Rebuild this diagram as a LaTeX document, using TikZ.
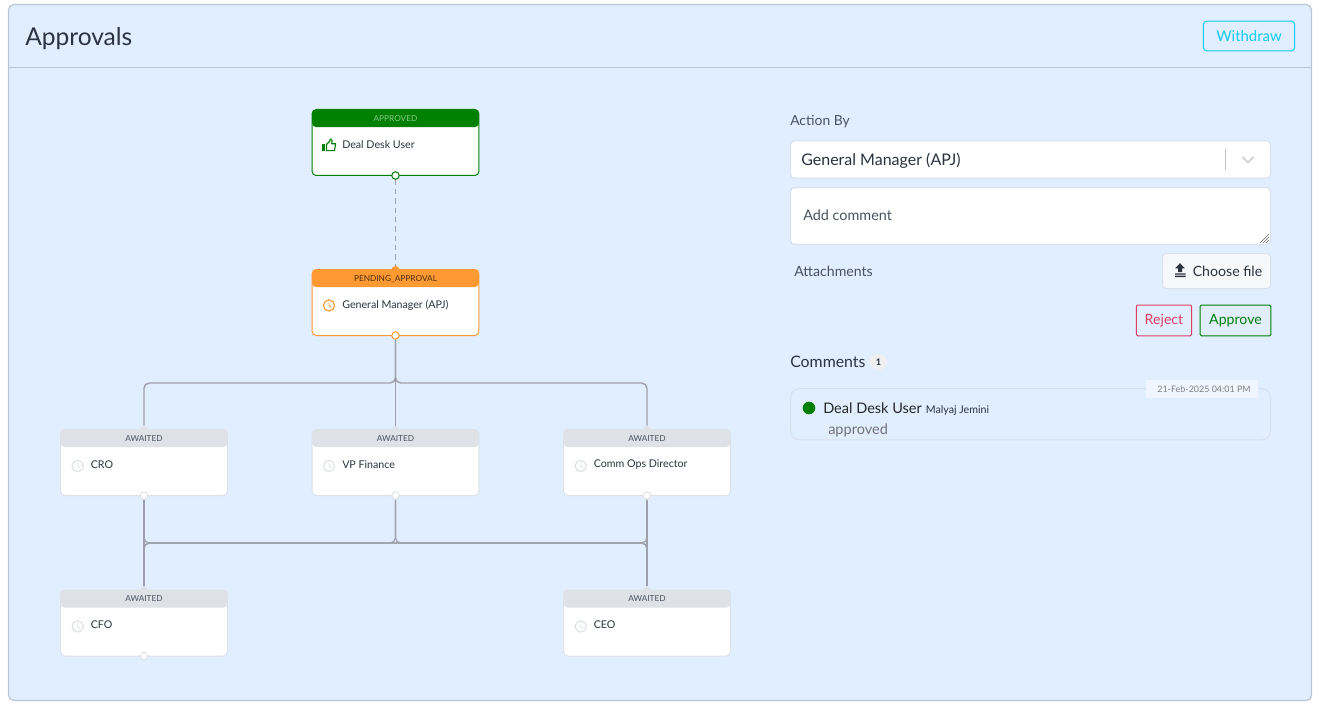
\documentclass[tikz,border=0pt]{standalone}
\usepackage{fontspec}
\setmainfont{Lato}
\usetikzlibrary{backgrounds}

\definecolor{panelblue}{HTML}{E1EEFF}
\definecolor{panelline}{HTML}{B9C5D6}
\definecolor{okgreen}{HTML}{008000}
\definecolor{pendorange}{HTML}{FF9A33}
\definecolor{waitgray}{HTML}{DEE2E7}
\definecolor{linkgray}{HTML}{9EA2A8}
\definecolor{inkdark}{HTML}{2B3340}
\definecolor{inkmid}{HTML}{4A5260}
\definecolor{boxline}{HTML}{D8E0EA}
\definecolor{skyline}{HTML}{12CBF2}
\definecolor{rejectred}{HTML}{E0405C}

\tikzset{
    cardbox/.style={draw=#1, fill=white, rounded corners=3pt, line width=.75pt, inner sep=0pt, outer sep=0pt,
        minimum width=125pt, minimum height=49.5pt,
        path picture={\fill[#1] (path picture bounding box.north west) rectangle ([yshift=-13.2pt]path picture bounding box.north east);}},
    cardhead/.style={inner sep=0pt, font=\fontsize{6.2pt}{8pt}\selectfont},
    cardtext/.style={anchor=west, inner sep=0pt, text=inkdark, font=\fontsize{8pt}{10pt}\selectfont},
    port/.style={circle, draw=#1, fill=white, line width=.75pt, inner sep=0pt, minimum size=5.6pt},
    dome/.style={circle, fill=#1, inner sep=0pt, minimum size=6pt},
    link/.style={draw=linkgray, line width=1.1pt, rounded corners=4pt},
    formbox/.style={draw=boxline, fill=white, rounded corners=3pt, line width=.75pt, inner sep=0pt, outer sep=0pt},
    btn/.style={draw=#1, text=#1, rounded corners=1pt, line width=.75pt, inner sep=0pt, outer sep=0pt, font=\fontsize{10.6pt}{13pt}\selectfont},
    lbl/.style={anchor=west, inner sep=0pt, text=inkmid, font=\fontsize{10.6pt}{13pt}\selectfont}
}

\newcommand{\clockicon}[3]{
    \draw[#3, line width=.85pt] (#1,#2) circle[radius=5.6];
    \draw[#3, line width=.6pt] (#1,#2-3.2) -- (#1,#2) -- (#1+2.4,#2+1.8);
}

\begin{document}
\begin{tikzpicture}[x=0.75pt, y=-0.75pt]
    \useasboundingbox (0,0) rectangle (1321,706);

    \begin{scope}[on background layer]
        \fill[white] (0,0) rectangle (1321,706);
        \draw[panelline, fill=panelblue, line width=.9pt, rounded corners=4pt] (8.5,4.5) rectangle (1311.5,700.5);
        \draw[panelline, line width=.9pt] (9,67.5) -- (1311,67.5);
    \end{scope}

    \node[inner sep=0pt, anchor=west, text=inkdark, font=\fontsize{18.4pt}{22pt}\selectfont] (title) at (25,38.5) {Approvals};
    \node[btn=skyline, rounded corners=2.5pt, font=\fontsize{11.2pt}{13pt}\selectfont, minimum width=68.5pt, minimum height=22.2pt] (withdraw) at (1249,36) {Withdraw};

    \node[dome=pendorange] (domegm) at (395.5,270) {};
    \node[dome=waitgray] (domecro) at (144,430) {};
    \node[dome=waitgray] (domevp) at (395.5,430) {};
    \node[dome=waitgray] (domecomm) at (647,430) {};
    \node[dome=waitgray] (domecfo) at (144,590.5) {};
    \node[dome=waitgray] (domeceo) at (647,590.5) {};

    \node[cardbox=okgreen] (dealdesk) at (395.5,142.5) {};
    \node[cardhead, text=okgreen!45!white] (dealdeskhead) at (395.5,118.7) {APPROVED};
    \node[cardtext] (dealdesktext) at (342,145) {Deal Desk User};
    \node[port=okgreen] (portdeal) at (395.5,175.5) {};

    \node[cardbox=pendorange] (manager) at (395.5,302.5) {};
    \node[cardhead, text=black!70!pendorange] (managerhead) at (395.5,278.7) {PENDING\_APPROVAL};
    \node[cardtext] (managertext) at (342,305) {General Manager (APJ)};
    \node[port=pendorange] (portgm) at (395.5,335.5) {};

    \node[cardbox=waitgray] (cro) at (144,462.5) {};
    \node[cardhead, text=inkmid] (crohead) at (144,438.7) {AWAITED};
    \node[cardtext] (crotext) at (90.5,465) {CRO};
    \node[port=waitgray] (portcro) at (144,495.5) {};

    \node[cardbox=waitgray] (vp) at (395.5,462.5) {};
    \node[cardhead, text=inkmid] (vphead) at (395.5,438.7) {AWAITED};
    \node[cardtext] (vptext) at (342,465) {VP Finance};
    \node[port=waitgray] (portvp) at (395.5,495.5) {};

    \node[cardbox=waitgray] (comm) at (647,462.5) {};
    \node[cardhead, text=inkmid] (commhead) at (647,438.7) {AWAITED};
    \node[cardtext] (commtext) at (593.5,465) {Comm Ops Director};
    \node[port=waitgray] (portcomm) at (647,495.5) {};

    \node[cardbox=waitgray] (cfo) at (144,623) {};
    \node[cardhead, text=inkmid] (cfohead) at (144,598.7) {AWAITED};
    \node[cardtext] (cfotext) at (90.5,625) {CFO};
    \node[port=waitgray] (portcfo) at (144,656) {};

    \node[cardbox=waitgray] (ceo) at (647,623) {};
    \node[cardhead, text=inkmid] (ceohead) at (647,598.7) {AWAITED};
    \node[cardtext] (ceotext) at (593.5,625) {CEO};

    \coordinate (busa) at (395.5,383);
    \coordinate (busb) at (395.5,543);

    \begin{scope}[on background layer]
        \draw[linkgray, line width=.8pt, dash pattern=on 4pt off 3pt] (portdeal) -- (domegm);

        \draw[link] (portgm) -- (portgm |- busa) -| (domecro);
        \draw[link, line width=1.3pt] (portgm) -- (domevp);
        \draw[link] (portgm) -- (portgm |- busa) -| (domecomm);

        \foreach \from in {portcro,portvp,portcomm}
            \foreach \to in {domecfo,domeceo}
                \draw[link, line width=.9pt] (\from) -- (\from |- busb) -| (\to);
    \end{scope}

    \begin{scope}[okgreen]
        \fill (322,144.2) rectangle (325,151);
        \draw[line width=.85pt, line join=round] (326.5,144.5) -- (329.5,141.5) -- (330.5,139) .. controls (332.5,139) and (332.5,141.5) .. (331.7,143.7) -- (335.6,143.7) -- (334.5,150.6) -- (326.5,150.6) -- cycle;
    \end{scope}

    \clockicon{329}{305.5}{pendorange}
    \clockicon{77.7}{466}{waitgray}
    \clockicon{329}{466}{waitgray}
    \clockicon{580.7}{466}{waitgray}
    \clockicon{77.7}{626.5}{waitgray}
    \clockicon{580.7}{626.5}{waitgray}

    \node[lbl, font=\fontsize{10.4pt}{13pt}\selectfont] (actionby) at (790,122) {Action By};
    \node[formbox, minimum width=360pt, minimum height=28pt] (selectbox) at (1030.5,159.5) {};
    \node[anchor=west, inner sep=0pt, text=inkdark, font=\fontsize{12pt}{14pt}\selectfont] (selecttext) at (801,161) {General Manager (APJ)};
    \draw[black!25, line width=.75pt] (1225.5,149) -- (1225.5,170);
    \draw[black!20, line width=1.3pt] (1242.5,157) -- (1248,162.5) -- (1253.5,157);

    \node[formbox, minimum width=360pt, minimum height=42.5pt] (commentbox) at (1030.5,216) {};
    \node[lbl, font=\fontsize{10.8pt}{13pt}\selectfont] (commenttext) at (803,215) {Add comment};
    \draw[black!55, line width=.45pt] (1260,243) -- (1269,234) (1263,243) -- (1269,237) (1266,243) -- (1269,240);

    \node[lbl] (attachments) at (794,271) {Attachments};
    \node[formbox, fill=waitgray!25!white, minimum width=81pt, minimum height=26.5pt] (choosefile) at (1216.5,271) {};
    \node[anchor=west, inner sep=0pt, text=inkdark, font=\fontsize{10.6pt}{13pt}\selectfont] (choosetext) at (1192.5,271.5) {Choose file};
    \fill[inkdark] (1180,263.2) -- (1184.8,268.3) -- (1182,268.3) -- (1182,272) -- (1178,272) -- (1178,268.3) -- (1175.2,268.3) -- cycle;
    \fill[inkdark] (1175,273.3) rectangle (1185.5,274.6) (1175,275.7) rectangle (1185.5,277);

    \node[btn=rejectred, minimum width=41.5pt, minimum height=23pt] (reject) at (1164,320.5) {Reject};
    \node[btn=okgreen, minimum width=53pt, minimum height=23pt] (approve) at (1235.5,320.5) {Approve};

    \node[anchor=west, inner sep=0pt, text=inkdark, font=\fontsize{11.9pt}{14pt}\selectfont] (comments) at (790,362) {Comments};
    \node[fill=black!6, rounded corners=5pt, inner sep=0pt, minimum width=12.5pt, minimum height=11pt, font=\bfseries\fontsize{6.8pt}{8pt}\selectfont, text=inkdark] (commentcount) at (878.5,362) {1};

    \node[draw=boxline, rounded corners=7pt, line width=.75pt, inner sep=0pt, outer sep=0pt, minimum width=360pt, minimum height=38.5pt] (commentcard) at (1030.5,414.2) {};
    \node[fill=white!50!panelblue, inner sep=0pt, minimum width=84pt, minimum height=13.5pt] (commentdate) at (1202,389) {};
    \node[inner sep=0pt, text=black!50, font=\fontsize{6.7pt}{9pt}\selectfont] (commentdatetext) at (1204,389.5) {21-Feb-2025 04:01 PM};
    \node[circle, fill=okgreen, inner sep=0pt, minimum size=9.4pt] (commentdot) at (809,408) {};
    \node[anchor=base west, inner sep=0pt, text=black!85, font=\fontsize{10.9pt}{13pt}\selectfont] (commentuser) at (823,413.5) {Deal Desk User};
    \node[anchor=base west, inner sep=0pt, text=inkdark, font=\fontsize{8pt}{10pt}\selectfont] (commentname) at (925.5,413) {Malyaj Jemini};
    \node[anchor=west, inner sep=0pt, text=black!55, font=\fontsize{10.9pt}{13pt}\selectfont] (commentbody) at (828,430) {approved};
\end{tikzpicture}
\end{document}
